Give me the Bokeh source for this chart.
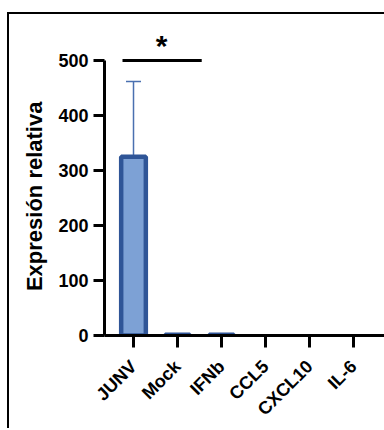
from bokeh.plotting import figure
from bokeh.models import ColumnDataSource, Whisker, FixedTicker, TeeHead
from bokeh.core.properties import value
from bokeh.embed import file_html
from bokeh.resources import INLINE
from math import pi

# ---- data ----
categories = ["JUNV", "Mock", "IFNb", "CCL5", "CXCL10", "IL-6"]
means = [325, 1.2, 1.2, None, None, None]
upper_err = [462, None, None, None, None, None]
y_ticks = [0, 100, 200, 300, 400, 500]
sig_pair = (0, 1)        # JUNV vs Mock
sig_label = "*"
y_label = "Expresión relativa"

FONT = "Liberation Sans"
xs = list(range(len(categories)))
bar_x = [x for x, m in zip(xs, means) if m is not None]
bar_top = [m for m in means if m is not None]
err_x = [x for x, e in zip(xs, upper_err) if e is not None]
err_lo = [m for m, e in zip(means, upper_err) if e is not None]
err_hi = [e for e in upper_err if e is not None]

bars = ColumnDataSource(dict(x=bar_x, top=bar_top))
errs = ColumnDataSource(dict(x=err_x, lower=err_lo, upper=err_hi))

# the chart is cropped on the right in the reference, so the canvas runs past the window edge
p = figure(width=385, height=416,
           x_range=(-0.659, 5.93), y_range=(0, 572.7),
           output_backend="svg", toolbar_location=None,
           min_border_left=95, min_border_right=0,
           min_border_top=6, min_border_bottom=95,
           styles={"margin-left": "9px", "margin-top": "14px",
                   "box-shadow": "-2px -2px 0 0 #000"})
p.outline_line_color = None
p.xgrid.visible = False
p.ygrid.visible = False
p.background_fill_color = "white"
p.border_fill_color = "white"

# error bar (upper only)
w = Whisker(base="x", lower="lower", upper="upper", source=errs,
            line_color="#4A70B0", line_width=1.5,
            upper_head=TeeHead(size=15, line_color="#4A70B0", line_width=1.5),
            lower_head=None, level="underlay")
p.add_layout(w)

p.vbar(x="x", top="top", bottom=0, width=0.56, source=bars,
       fill_color="#7DA1D5", line_color="#2F5597", line_width=4.5)

# significance bracket
p.segment(x0=[sig_pair[0] - 0.25], x1=[sig_pair[1] + 0.55], y0=[500], y1=[500],
          line_color="black", line_width=3)
p.text(x=[(sig_pair[0] + sig_pair[1]) / 2 + 0.14], y=[528], text=[sig_label],
       text_font=value(FONT), text_font_style="bold", text_font_size="30px",
       text_align="center", text_baseline="middle", text_color="black")

# y axis
ya = p.yaxis[0]
ya.ticker = FixedTicker(ticks=y_ticks)
ya.bounds = (0, 500)
ya.axis_line_width = 3
ya.major_tick_line_width = 3
ya.major_tick_out = 11
ya.major_tick_in = 0
ya.minor_tick_line_color = None
ya.major_label_standoff = 5
ya.major_label_text_font = FONT
ya.major_label_text_font_style = "bold"
ya.major_label_text_font_size = "18px"
ya.major_label_text_color = "black"
# non-breaking spaces shift the title so it is centred on the drawn axis (0..500)
ya.axis_label = y_label + "\u00a0" * 6
ya.axis_label_text_font = FONT
ya.axis_label_text_font_style = "bold"
ya.axis_label_text_font_size = "22px"
ya.axis_label_text_color = "black"
ya.axis_label_standoff = 8

# x axis
xa = p.xaxis[0]
xa.ticker = FixedTicker(ticks=xs)
xa.major_label_overrides = {i: c for i, c in enumerate(categories)}
xa.axis_line_width = 3
xa.major_tick_line_width = 3
xa.major_tick_out = 12
xa.major_tick_in = 0
xa.minor_tick_line_color = None
xa.major_label_orientation = pi / 4
xa.major_label_standoff = 16
xa.major_label_text_font = FONT
xa.major_label_text_font_style = "bold"
xa.major_label_text_font_size = "18px"
xa.major_label_text_color = "black"

html = file_html(p, INLINE)
html = html.replace("<head>", "<head><style>html,body{overflow:hidden;margin:0;}</style>", 1)
open("out.html", "w").write(html)
